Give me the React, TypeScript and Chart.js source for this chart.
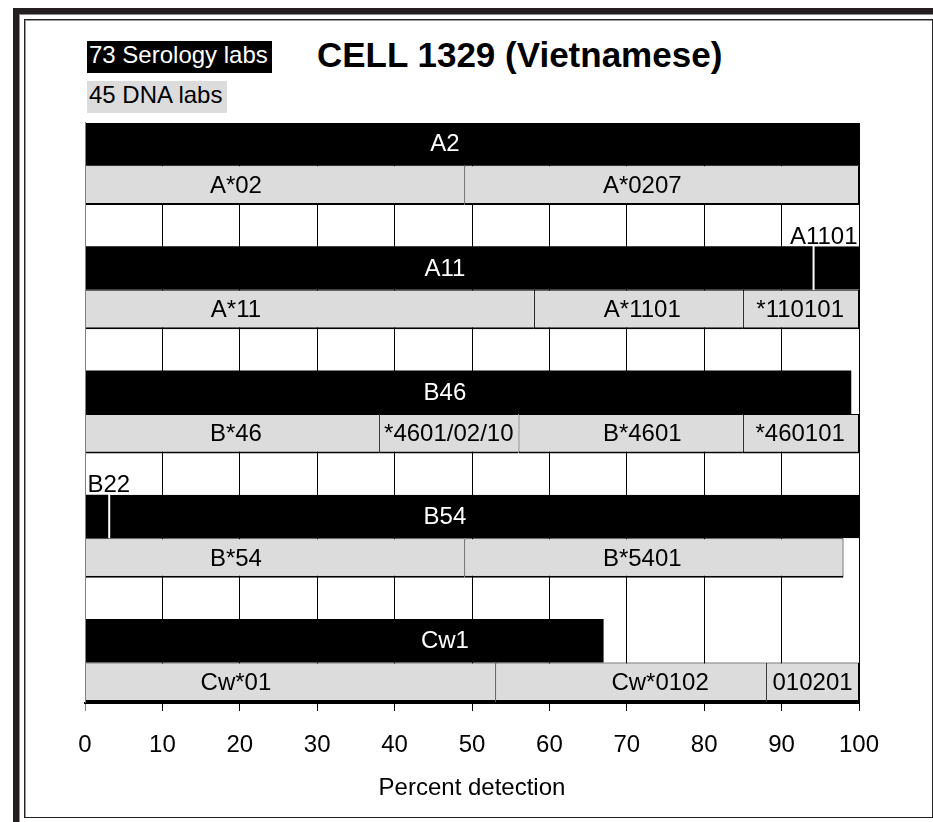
import React, { useEffect, useRef } from 'react';
import { Chart, registerables } from 'chart.js';

Chart.register(...registerables);

// ---------- data ----------
const TITLE = 'CELL 1329 (Vietnamese)';
const SEROLOGY_LEGEND = '73 Serology labs';
const DNA_LEGEND = '45 DNA labs';
const X_TITLE = 'Percent detection';
const X_MIN = 0;
const X_MAX = 100;
const X_STEP = 10;

const groups = ['A2', 'A11', 'B46', 'B54', 'Cw1'];

// serology (black) bars: segment names and cut points in percent
const serologyNames = [['A2'], ['A11', 'A1101'], ['B46'], ['B22', 'B54'], ['Cw1']];
const serologyCuts = [[0, 100], [0, 94, 100], [0, 99], [0, 3, 100], [0, 67]];
const SEROLOGY_LABEL_AT = 46.5;

// DNA (grey) bars: segment names, cut points and label anchors in percent
const dnaNames = [
  ['A*02', 'A*0207'],
  ['A*11', 'A*1101', '*110101'],
  ['B*46', '*4601/02/10', 'B*4601', '*460101'],
  ['B*54', 'B*5401'],
  ['Cw*01', 'Cw*0102', '010201'],
];
const dnaCuts = [[0, 49, 100], [0, 58, 85, 100], [0, 38, 56, 85, 100], [0, 49, 98], [0, 53, 88, 100]];
const dnaLabelAt = [[19.5, 72], [19.5, 72, 92.4], [19.5, 47, 72, 92.4], [19.5, 72], [19.5, 74.3, 94]];

// ---------- derived structure ----------
const FONT = '"Liberation Sans", Arial, Helvetica, sans-serif';
const rows: string[] = [];
groups.forEach((g, i) => {
  rows.push(g + ' serology');
  rows.push(g + ' DNA');
  if (i < groups.length - 1) rows.push(g + ' gap');
});
const seroRow = (gi: number) => gi * 3;
const dnaRow = (gi: number) => gi * 3 + 1;

function segmentData(cuts: number[][], rowOf: (gi: number) => number, slot: number) {
  return rows.map((_, r) => {
    const gi = groups.findIndex((_, k) => rowOf(k) === r);
    if (gi < 0) return null;
    const c = cuts[gi];
    if (slot >= c.length - 1) return null;
    return [c[slot], c[slot + 1]];
  });
}

const maxSero = Math.max(...serologyCuts.map((c) => c.length - 1));
const maxDna = Math.max(...dnaCuts.map((c) => c.length - 1));

const datasets: any[] = [];
for (let s = 0; s < maxSero; s++) {
  datasets.push({
    label: 'Serology ' + s,
    data: segmentData(serologyCuts, seroRow, s),
    grouped: false,
    barPercentage: 1.05,
    categoryPercentage: 1,
    backgroundColor: '#000000',
    borderColor: '#ffffff',
    borderSkipped: false,
    borderWidth: s === 0 ? 0 : { top: 0, bottom: 0, right: 0, left: 2 },
  });
}
for (let s = 0; s < maxDna; s++) {
  datasets.push({
    label: 'DNA ' + s,
    data: segmentData(dnaCuts, dnaRow, s),
    grouped: false,
    barPercentage: 0.955,
    categoryPercentage: 1,
    backgroundColor: '#dcdcdc',
    borderColor: '#000000',
    borderSkipped: false,
    borderWidth: (ctx: any) => {
      const gi = Math.floor(ctx.dataIndex / 3);
      const last = s === dnaCuts[gi].length - 2;
      return { top: 1, bottom: 2, left: s === 0 ? 0 : 1, right: last ? 1 : 0 };
    },
  });
}

const labelPlugin = {
  id: 'segmentLabels',
  afterDatasetsDraw(chart: any) {
    const { ctx, scales, chartArea } = chart;
    const x = scales.x;
    const y = scales.y;
    const rowH = (y.getPixelForValue(1) - y.getPixelForValue(0)) * 1.05;
    ctx.save();
    // plot frame left edge
    ctx.strokeStyle = '#808080';
    ctx.lineWidth = 1;
    ctx.beginPath();
    ctx.moveTo(Math.round(chartArea.left) + 0.5, chartArea.top - 1);
    ctx.lineTo(Math.round(chartArea.left) + 0.5, chartArea.bottom);
    ctx.stroke();

    ctx.font = `24px ${FONT}`;
    groups.forEach((g, gi) => {
      // serology labels
      const ys = y.getPixelForValue(seroRow(gi));
      const cuts = serologyCuts[gi];
      serologyNames[gi].forEach((name, k) => {
        const a = cuts[k];
        const b = cuts[k + 1];
        const w = x.getPixelForValue(b) - x.getPixelForValue(a);
        const tw = ctx.measureText(name).width;
        if (w < tw + 6) {
          ctx.fillStyle = '#000';
          ctx.textBaseline = 'alphabetic';
          const base = ys - rowH / 2 - 2.5;
          if (b >= X_MAX - 1e-9) {
            ctx.textAlign = 'right';
            ctx.fillText(name, x.getPixelForValue(X_MAX) - 1.5, base);
          } else {
            ctx.textAlign = 'left';
            ctx.fillText(name, x.getPixelForValue(a) + 2.5, base);
          }
        } else {
          const at = SEROLOGY_LABEL_AT >= a && SEROLOGY_LABEL_AT <= b ? SEROLOGY_LABEL_AT : (a + b) / 2;
          ctx.fillStyle = '#fff';
          ctx.textAlign = 'center';
          ctx.textBaseline = 'middle';
          ctx.fillText(name, x.getPixelForValue(at), ys + 1);
        }
      });
      // DNA labels
      const yd = y.getPixelForValue(dnaRow(gi));
      dnaNames[gi].forEach((name, k) => {
        ctx.fillStyle = '#000';
        ctx.textAlign = 'center';
        ctx.textBaseline = 'middle';
        ctx.fillText(name, x.getPixelForValue(dnaLabelAt[gi][k]), yd + 1);
      });
    });
    ctx.restore();
  },
};

export default function App() {
  const ref = useRef<HTMLCanvasElement>(null);
  useEffect(() => {
    const chart = new Chart(ref.current as HTMLCanvasElement, {
      type: 'bar',
      data: { labels: rows, datasets },
      options: {
        animation: false,
        responsive: false,
        indexAxis: 'y',
        devicePixelRatio: 1,
        layout: { padding: { left: 85, right: 74, top: 123, bottom: 0 } },
        plugins: { legend: { display: false }, tooltip: { enabled: false }, title: { display: false } },
        scales: {
          y: { display: false, type: 'category' },
          x: {
            type: 'linear',
            min: X_MIN,
            max: X_MAX,
            afterFit: (axis: any) => {
              axis.height = 119;
            },
            ticks: {
              stepSize: X_STEP,
              color: '#000',
              padding: 20,
              font: { family: FONT, size: 24 },
            },
            grid: {
              color: (c: any) => (c.tick && c.tick.value === X_MIN ? '#808080' : '#000000'),
              lineWidth: 1,
              tickLength: 8,
              drawOnChartArea: true,
            },
            border: { display: true, color: '#000', width: 2 },
            title: {
              display: true,
              text: X_TITLE,
              color: '#000',
              font: { family: FONT, size: 24 },
              padding: { top: 10, bottom: 19 },
            },
          },
        },
      } as any,
      plugins: [labelPlugin],
    });
    return () => chart.destroy();
  }, []);

  const abs: React.CSSProperties = { position: 'absolute' };
  return (
    <div style={{ position: 'fixed', left: 0, top: 0, width: 933, height: 822, background: '#fff', overflow: 'hidden' }}>
      <div style={{ ...abs, left: 13, top: 8, width: 920, height: 6, background: '#231f20' }} />
      <div style={{ ...abs, left: 19, top: 14, width: 914, height: 1, background: '#8a8a8a' }} />
      <div style={{ ...abs, left: 13, top: 8, width: 6, height: 814, background: '#231f20' }} />
      <div style={{ ...abs, left: 19, top: 14, width: 1, height: 808, background: '#8a8a8a' }} />
      <div
        style={{
          ...abs,
          left: 24,
          top: 19,
          width: 909,
          height: 799,
          boxSizing: 'border-box',
          border: '1px solid #222',
          boxShadow: 'inset 1px 1px 0 #9a9a9a',
        }}
      />
      <div
        style={{
          ...abs,
          left: 87,
          top: 41,
          width: 185,
          height: 32,
          boxSizing: 'border-box',
          background: '#000',
          color: '#fff',
          font: `24px ${FONT}`,
          lineHeight: '28px',
          paddingLeft: 2,
          whiteSpace: 'nowrap',
        }}
      >
        {SEROLOGY_LEGEND}
      </div>
      <div
        style={{
          ...abs,
          left: 87,
          top: 81,
          width: 140,
          height: 32,
          boxSizing: 'border-box',
          background: '#dcdcdc',
          color: '#000',
          font: `24px ${FONT}`,
          lineHeight: '28px',
          paddingLeft: 2,
          whiteSpace: 'nowrap',
        }}
      >
        {DNA_LEGEND}
      </div>
      <div
        style={{
          ...abs,
          left: 317,
          top: 38,
          font: `bold 35px ${FONT}`,
          lineHeight: '34px',
          color: '#000',
          whiteSpace: 'nowrap',
        }}
      >
        {TITLE}
      </div>
      <canvas ref={ref} width={933} height={822} style={{ ...abs, left: 0, top: 0, width: 933, height: 822 }} />
    </div>
  );
}
